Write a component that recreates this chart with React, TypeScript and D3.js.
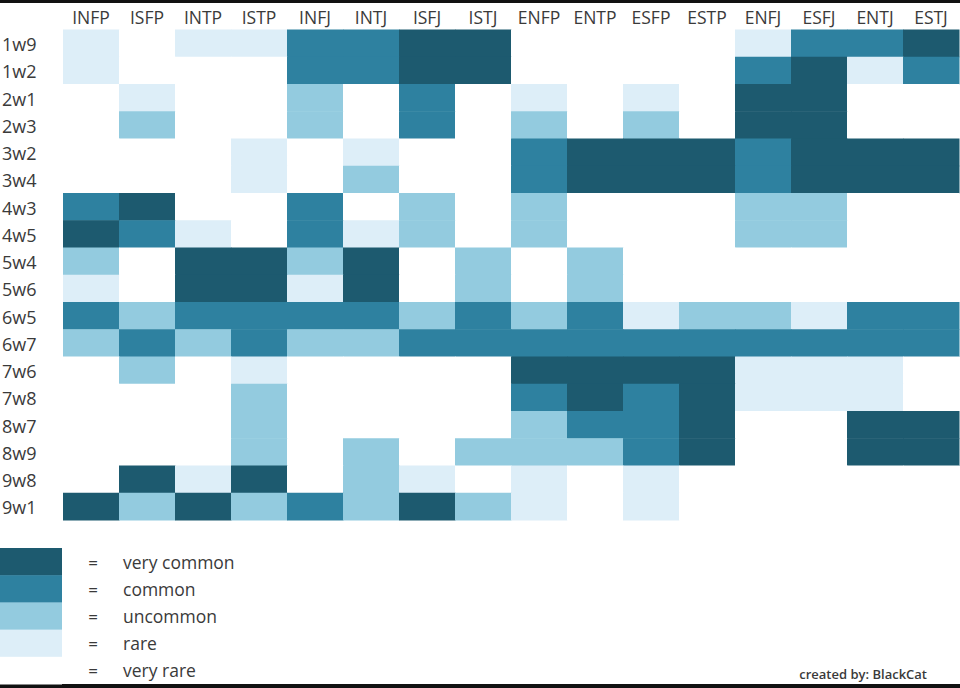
import React from "react";
import * as d3 from "d3";

const types = ["INFP","ISFP","INTP","ISTP","INFJ","INTJ","ISFJ","ISTJ","ENFP","ENTP","ESFP","ESTP","ENFJ","ESFJ","ENTJ","ESTJ"];
const wings = ["1w9","1w2","2w1","2w3","3w2","3w4","4w3","4w5","5w4","5w6","6w5","6w7","7w6","7w8","8w7","8w9","9w8","9w1"];
// 0 = very rare, 1 = rare, 2 = uncommon, 3 = common, 4 = very common
const values: number[][] = [
  [1,0,1,1,3,3,4,4,0,0,0,0,1,3,3,4],
  [1,0,0,0,3,3,4,4,0,0,0,0,3,4,1,3],
  [0,1,0,0,2,0,3,0,1,0,1,0,4,4,0,0],
  [0,2,0,0,2,0,3,0,2,0,2,0,4,4,0,0],
  [0,0,0,1,0,1,0,0,3,4,4,4,3,4,4,4],
  [0,0,0,1,0,2,0,0,3,4,4,4,3,4,4,4],
  [3,4,0,0,3,0,2,0,2,0,0,0,2,2,0,0],
  [4,3,1,0,3,1,2,0,2,0,0,0,2,2,0,0],
  [2,0,4,4,2,4,0,2,0,2,0,0,0,0,0,0],
  [1,0,4,4,1,4,0,2,0,2,0,0,0,0,0,0],
  [3,2,3,3,3,3,2,3,2,3,1,2,2,1,3,3],
  [2,3,2,3,2,2,3,3,3,3,3,3,3,3,3,3],
  [0,2,0,1,0,0,0,0,4,4,4,4,1,1,1,0],
  [0,0,0,2,0,0,0,0,3,4,3,4,1,1,1,0],
  [0,0,0,2,0,0,0,0,2,3,3,4,0,0,4,4],
  [0,0,0,2,0,2,0,2,2,2,3,4,0,0,4,4],
  [0,4,1,4,0,2,1,0,1,0,1,0,0,0,0,0],
  [4,2,4,2,3,2,4,2,1,0,1,0,0,0,0,0],
];
const levelLabels = ["very common","common","uncommon","rare","very rare"];
const levelValues = [4,3,2,1,0];
const levelColors = ["#ffffff","#ddeef8","#93cbdf","#2e81a0","#1d5a6f"];
const credit = "created by: BlackCat";

const W = 960, H = 688;

export default function App() {
  React.useEffect(() => {
    document.body.style.margin = "0";
  }, []);
  const x = d3.scaleBand<string>().domain(types).range([63, 959]);
  const y = d3.scaleBand<string>().domain(wings).range([29.5, 520]);
  const color = d3.scaleOrdinal<number, string>().domain([0,1,2,3,4]).range(levelColors);
  const ly = d3.scaleBand<string>().domain(levelLabels).range([548, 684]);
  const font = "'Open Sans', 'Noto Sans', sans-serif";
  return (
    <svg width={W} height={H} style={{ display: "block", background: "#fff" }} fontFamily={font}>
      <rect x={0} y={0} width={W} height={H} fill="#fff" />
      <rect x={0} y={0} width={W} height={3} fill="#111" />
      <rect x={0} y={684} width={W} height={4} fill="#111" />
      {values.map((row, ri) =>
        row.map((v, ci) => (
          <rect
            key={`${ri}-${ci}`}
            x={x(types[ci])!}
            y={y(wings[ri])!}
            width={x.bandwidth() + 0.5}
            height={y.bandwidth() + 0.5}
            fill={color(v)}
          />
        ))
      )}
      {types.map((t) => (
        <text key={t} x={x(t)! + x.bandwidth() / 2} y={24} textAnchor="middle" fontSize={17.5} fill="#3a3a3a">
          {t}
        </text>
      ))}
      {wings.map((w) => (
        <text key={w} x={2} y={y(w)! + y.bandwidth() / 2 + 8} fontSize={18} fill="#3a3a3a">
          {w}
        </text>
      ))}
      {levelLabels.map((l, i) => (
        <g key={l}>
          <rect x={0} y={ly(l)!} width={62} height={ly.bandwidth() + 0.5} fill={color(levelValues[i])} />
          <text x={93} y={ly(l)! + ly.bandwidth() / 2 + 7} textAnchor="middle" fontSize={17} fill="#3a3a3a">=</text>
          <text x={123} y={ly(l)! + ly.bandwidth() / 2 + 7} fontSize={17.5} fill="#3a3a3a">{l}</text>
        </g>
      ))}
      <text x={927} y={679} textAnchor="end" fontSize={13} fontWeight={600} fill="#3a3a3a">{credit}</text>
    </svg>
  );
}
